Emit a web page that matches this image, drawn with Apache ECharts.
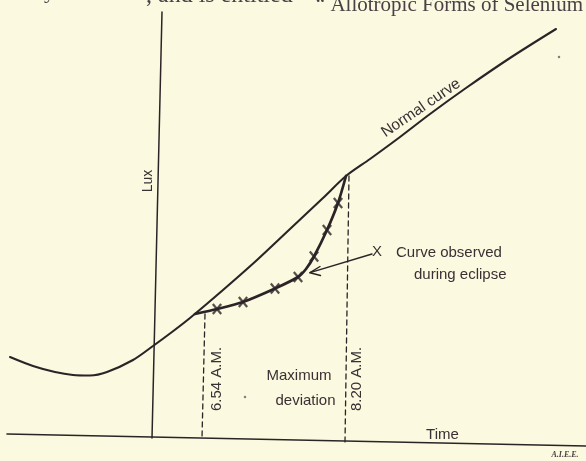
<!DOCTYPE html>
<html>
<head>
<meta charset="utf-8">
<script src="https://cdn.jsdelivr.net/npm/echarts@6/dist/echarts.min.js"></script>
<style>
html,body{margin:0;padding:0;background:#fbf9df;}
#c{width:586px;height:461px;}
</style>
</head>
<body>
<div id="c"></div>
<script>
// Drawing space: x = time (left→right), y = lux position (screen-like, inverted axis)
var timeAxisLine = [[7, 434], [586, 446]];
var luxAxisLine = [[162, 12], [152, 438]];
var normalCurve = [[10,357],[33,366],[55,372],[73,375],[90,375.5],[107,372],[133,360],[153,346],[172,332],[190,318],[223,290],[257,260],[290,229],[323,198],[346,176],[370,159],[400,137],[430,114],[466,88],[510,58],[556,29]];
var eclipseCurve = [[195,314],[217,309],[243,302],[275,288.5],[298,277],[306,269],[314,256.5],[327,230],[338,203],[346,176]];
var eclipseMarks = [[217,309],[243,302],[275,288.5],[298,277],[314,256.5],[327,230],[338,203]];
var startLine = [[205,314],[202,438]];
var endLine = [[349,176],[345,442]];
var arrowShaft = [[372,254],[310,272.7]];
var arrowHead = [[320,266.5],[310,272.7],[320.5,275.5]];
var specks = [[245,397],[559,57]];

var ink = '#2c2327';
var textInk = '#3a3034';
var sans = '"Liberation Sans", Arial, sans-serif';

function lineSeries(data, width, dashed) {
  return {
    type: 'line', data: data, symbol: 'none', silent: true,
    lineStyle: { color: ink, width: width, type: dashed ? [5, 4] : 'solid', cap: 'round', join: 'round' },
    z: 2
  };
}

var chart = echarts.init(document.getElementById('c'), null, { renderer: 'canvas' });
chart.setOption({
  backgroundColor: '#fbf9df',
  animation: false,
  grid: { left: 0, right: 0, top: 0, bottom: 0 },
  xAxis: { type: 'value', min: 0, max: 586, show: false },
  yAxis: { type: 'value', min: 0, max: 461, inverse: true, show: false },
  series: [
    lineSeries(timeAxisLine, 1.6, false),
    lineSeries(luxAxisLine, 1.5, false),
    Object.assign(lineSeries(normalCurve, 2.1, false), { smooth: 0.3 }),
    Object.assign(lineSeries(eclipseCurve, 2.7, false), { smooth: 0.25 }),
    lineSeries(startLine, 1.3, true),
    lineSeries(endLine, 1.3, true),
    lineSeries(arrowShaft, 1.4, false),
    lineSeries(arrowHead, 1.4, false),
    { type: 'scatter', data: eclipseMarks, symbol: 'rect', symbolSize: [2.2, 13], symbolRotate: 40,
      itemStyle: { color: ink }, silent: true, z: 3 },
    { type: 'scatter', data: eclipseMarks, symbol: 'rect', symbolSize: [2.2, 13], symbolRotate: -40,
      itemStyle: { color: ink }, silent: true, z: 3 },
    { type: 'scatter', data: specks, symbol: 'circle', symbolSize: 2.5,
      itemStyle: { color: '#6a5f62' }, silent: true }
  ],
  graphic: [
    { type: 'text', x: 44, y: -8, style: { text: 'y', font: '22px "Liberation Serif", serif', fill: '#4a4045', textAlign: 'left', textVerticalAlign: 'middle' } },
    { type: 'text', x: 146, y: -4, style: { text: ', and is entitled', font: '24px "Liberation Serif", serif', fill: '#4a4045', textAlign: 'left', textVerticalAlign: 'middle' } },
    { type: 'text', x: 583, y: 5, style: { text: '\u201c Allotropic Forms of Selenium', font: '21px "Liberation Serif", serif', fill: '#4a4045', textAlign: 'right', textVerticalAlign: 'middle' } },
    { type: 'text', x: 148, y: 181, rotation: Math.PI / 2, style: { text: 'Lux', font: '14px ' + sans, fill: textInk, textAlign: 'center', textVerticalAlign: 'middle' } },
    { type: 'text', x: 421, y: 108, rotation: 0.60, style: { text: 'Normal curve', font: '15.5px ' + sans, fill: textInk, textAlign: 'center', textVerticalAlign: 'middle' } },
    { type: 'text', x: 377, y: 252, style: { text: 'X', font: '15px ' + sans, fill: textInk, textAlign: 'center', textVerticalAlign: 'middle' } },
    { type: 'text', x: 396, y: 253, style: { text: 'Curve observed', font: '15px ' + sans, fill: textInk, textAlign: 'left', textVerticalAlign: 'middle' } },
    { type: 'text', x: 414, y: 275, style: { text: 'during eclipse', font: '15px ' + sans, fill: textInk, textAlign: 'left', textVerticalAlign: 'middle' } },
    { type: 'text', x: 216.5, y: 379, rotation: Math.PI / 2, style: { text: '6.54 A.M.', font: '15px ' + sans, fill: textInk, textAlign: 'center', textVerticalAlign: 'middle' } },
    { type: 'text', x: 356.5, y: 379, rotation: Math.PI / 2, style: { text: '8.20 A.M.', font: '15px ' + sans, fill: textInk, textAlign: 'center', textVerticalAlign: 'middle' } },
    { type: 'text', x: 299, y: 376, style: { text: 'Maximum', font: '15px ' + sans, fill: textInk, textAlign: 'center', textVerticalAlign: 'middle' } },
    { type: 'text', x: 305.5, y: 401, style: { text: 'deviation', font: '15px ' + sans, fill: textInk, textAlign: 'center', textVerticalAlign: 'middle' } },
    { type: 'text', x: 442.5, y: 435, style: { text: 'Time', font: '15px ' + sans, fill: textInk, textAlign: 'center', textVerticalAlign: 'middle' } },
    { type: 'text', x: 565, y: 455, style: { text: 'A.I.E.E.', font: 'italic bold 8px "Liberation Serif", serif', fill: '#4a4045', textAlign: 'center', textVerticalAlign: 'middle' } }
  ]
});
</script>
</body>
</html>
